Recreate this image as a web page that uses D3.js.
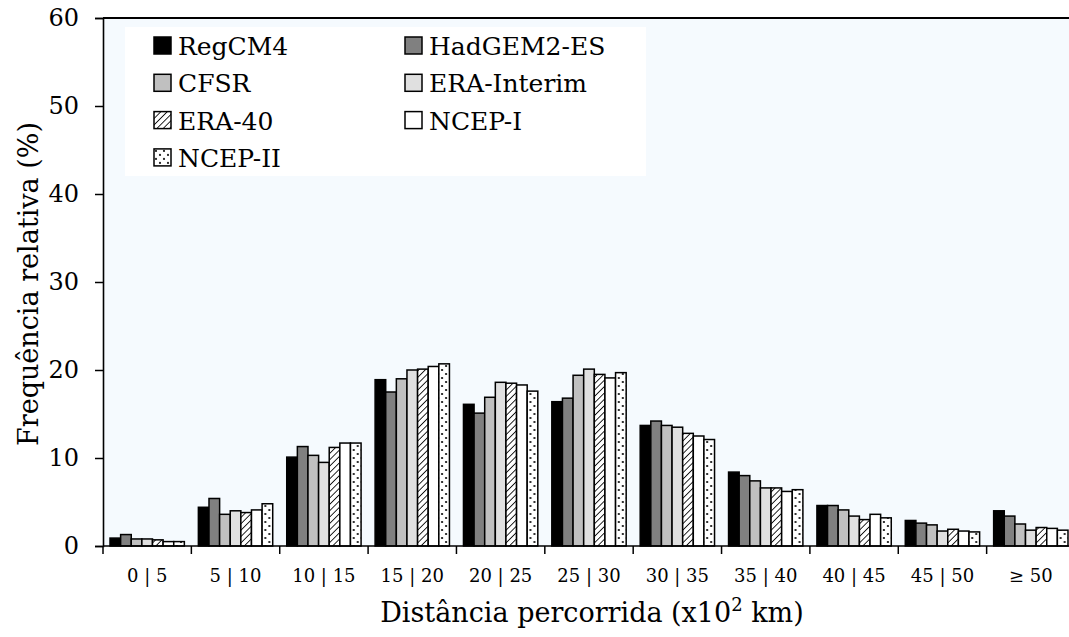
<!DOCTYPE html>
<html>
<head>
<meta charset="utf-8">
<script src="https://cdn.jsdelivr.net/npm/d3@7"></script>
<style>
  html, body { margin: 0; padding: 0; background: #fff; overflow: hidden; }
  svg { display: block; }
  text { font-family: "DejaVu Serif", serif; fill: #000; }
</style>
</head>
<body>
<svg id="chart" width="1069" height="637"></svg>
<script>
// Distance classes (x10^2 km)
const categories = ["0 | 5", "5 | 10", "10 | 15", "15 | 20", "20 | 25", "25 | 30",
                    "30 | 35", "35 | 40", "40 | 45", "45 | 50", "\u2265 50"];

const seriesNames = ["RegCM4", "HadGEM2-ES", "CFSR", "ERA-Interim", "ERA-40", "NCEP-I", "NCEP-II"];

// Relative frequency (%) per distance class
const regcm4     = [0.9, 4.4, 10.1, 18.9, 16.1, 16.4, 13.7, 8.4, 4.6, 2.9, 4.0];
const hadgem2es  = [1.3, 5.4, 11.3, 17.5, 15.1, 16.8, 14.2, 8.0, 4.6, 2.6, 3.4];
const cfsr       = [0.8, 3.6, 10.3, 19.0, 16.9, 19.4, 13.7, 7.4, 4.1, 2.4, 2.5];
const eraInterim = [0.8, 4.0,  9.5, 20.0, 18.6, 20.1, 13.5, 6.6, 3.4, 1.7, 1.8];
const era40      = [0.7, 3.8, 11.2, 20.1, 18.5, 19.5, 12.8, 6.6, 3.0, 1.9, 2.1];
const ncep1      = [0.5, 4.1, 11.7, 20.4, 18.3, 19.1, 12.5, 6.2, 3.6, 1.7, 2.0];
const ncep2      = [0.5, 4.8, 11.7, 20.7, 17.6, 19.7, 12.1, 6.4, 3.2, 1.6, 1.8];

const seriesValues = [regcm4, hadgem2es, cfsr, eraInterim, era40, ncep1, ncep2];

const yTicks = [0, 10, 20, 30, 40, 50, 60];

const svg = d3.select("#chart");
const margin = { left: 103, top: 18, bottom: 546, right: 1075 };

// Fill patterns
const defs = svg.append("defs");
const hatch = defs.append("pattern")
  .attr("id", "hatch").attr("patternUnits", "userSpaceOnUse")
  .attr("width", 4.5).attr("height", 4.5)
  .attr("patternTransform", "rotate(45)");
hatch.append("rect").attr("width", 4.5).attr("height", 4.5).attr("fill", "#fff");
hatch.append("line").attr("x1", 0).attr("y1", 0).attr("x2", 0).attr("y2", 4.5)
  .attr("stroke", "#000").attr("stroke-width", 1.7);

const dots = defs.append("pattern")
  .attr("id", "dots").attr("patternUnits", "userSpaceOnUse")
  .attr("width", 8).attr("height", 8);
dots.append("rect").attr("width", 8).attr("height", 8).attr("fill", "#fff");
dots.append("circle").attr("cx", 2).attr("cy", 2).attr("r", 1.1).attr("fill", "#000");
dots.append("circle").attr("cx", 6).attr("cy", 6).attr("r", 1.1).attr("fill", "#000");

const fills = ["#000000", "#808080", "#c0c0c0", "#e0e0e0", "url(#hatch)", "#ffffff", "url(#dots)"];

// Scales
const x = d3.scaleBand().domain(categories).range([margin.left, margin.right]).padding(0);
const xInner = d3.scaleBand().domain(d3.range(seriesNames.length))
  .range([0, x.bandwidth()]).paddingInner(0).paddingOuter(0.66);
const y = d3.scaleLinear().domain([0, 60]).range([margin.bottom, margin.top]);

// Plot area background
svg.append("rect")
  .attr("x", margin.left).attr("y", y(60))
  .attr("width", margin.right - margin.left).attr("height", y(0) - y(60))
  .attr("fill", "#f5fafe");

// Bars
const groups = svg.append("g").selectAll("g")
  .data(categories).join("g")
  .attr("transform", d => `translate(${x(d)},0)`);

groups.selectAll("rect")
  .data((c, i) => seriesValues.map((vals, s) => ({ s, v: vals[i] })))
  .join("rect")
  .attr("x", d => xInner(d.s))
  .attr("y", d => y(d.v))
  .attr("width", xInner.bandwidth())
  .attr("height", d => y(0) - y(d.v))
  .attr("fill", d => fills[d.s])
  .attr("stroke", "#000")
  .attr("stroke-width", 1.5);

// Top frame line
svg.append("line")
  .attr("x1", margin.left).attr("x2", margin.right)
  .attr("y1", y(60)).attr("y2", y(60))
  .attr("stroke", "#000").attr("stroke-width", 2);

// Y axis
const yAxis = svg.append("g")
  .attr("transform", `translate(${margin.left},0)`)
  .call(d3.axisLeft(y).tickValues(yTicks).tickSize(8).tickPadding(16).tickFormat(d3.format("d")));
yAxis.select(".domain").attr("stroke", "#000").attr("stroke-width", 1.6);
yAxis.selectAll(".tick line").attr("stroke", "#000").attr("stroke-width", 1.5);
yAxis.selectAll(".tick text")
  .style("font-family", '"DejaVu Serif", serif').style("font-size", "24px").attr("fill", "#000");

// X axis: baseline, ticks at class boundaries, centred labels
const xAxis = svg.append("g");
xAxis.append("line")
  .attr("x1", margin.left).attr("x2", margin.right)
  .attr("y1", y(0)).attr("y2", y(0))
  .attr("stroke", "#000").attr("stroke-width", 1.6);
xAxis.selectAll("line.tick")
  .data(categories).join("line").attr("class", "tick")
  .attr("x1", d => x(d)).attr("x2", d => x(d))
  .attr("y1", y(0)).attr("y2", y(0) + 8)
  .attr("stroke", "#000").attr("stroke-width", 1.5);
xAxis.selectAll("text")
  .data(categories).join("text")
  .attr("x", d => x(d) + x.bandwidth() / 2)
  .attr("y", y(0) + 36)
  .attr("text-anchor", "middle")
  .style("font-size", "18px")
  .text(d => d);

// Axis titles
const xTitle = svg.append("text")
  .attr("x", 592).attr("y", 622)
  .attr("text-anchor", "middle")
  .style("font-size", "27px");
xTitle.append("tspan").text("Distância percorrida (x10");
xTitle.append("tspan").attr("dy", -11).style("font-size", "18px").text("2");
xTitle.append("tspan").attr("dy", 11).text(" km)");

svg.append("text")
  .attr("transform", "translate(38,284) rotate(-90)")
  .attr("text-anchor", "middle")
  .style("font-size", "27px")
  .text("Frequência relativa (%)");

// Legend
const legend = svg.append("g");
legend.append("rect")
  .attr("x", 125).attr("y", 27).attr("width", 521).attr("height", 149)
  .attr("fill", "#fff");

const legendItems = legend.selectAll("g.item")
  .data(seriesNames).join("g").attr("class", "item")
  .attr("transform", (d, i) => {
    const col = i % 2, row = Math.floor(i / 2);
    return `translate(${col === 0 ? 154 : 405},${37 + row * 37.3})`;
  });
legendItems.append("rect")
  .attr("width", 17).attr("height", 17)
  .attr("fill", (d, i) => fills[i])
  .attr("stroke", "#000").attr("stroke-width", 1.5);
legendItems.append("text")
  .attr("x", 24).attr("y", 18)
  .style("font-size", "25px")
  .text(d => d);
</script>
</body>
</html>
